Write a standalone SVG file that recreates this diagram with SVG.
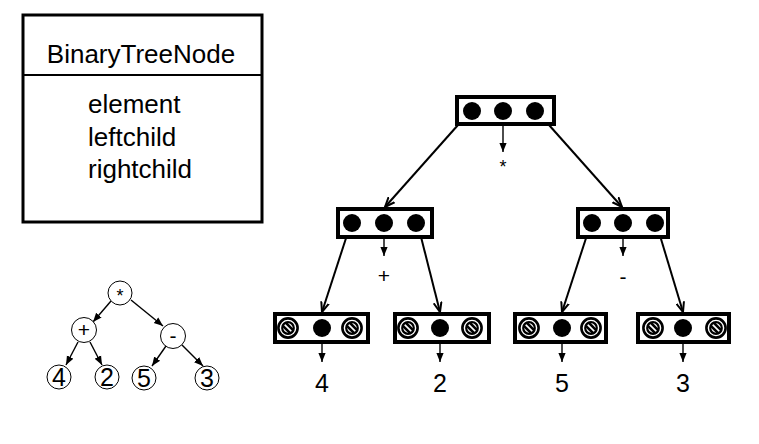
<svg xmlns="http://www.w3.org/2000/svg" width="759" height="444" viewBox="0 0 759 444">
<style>
.t{font-family:"Liberation Sans",Arial,sans-serif;fill:#000}
.box{fill:#fff;stroke:#000;stroke-width:4}
.dot{fill:#000}
.ln{stroke:#000;stroke-width:2;fill:none}
.ln1{stroke:#000;stroke-width:1.4;fill:none}
.sc{fill:#fff;stroke:#000;stroke-width:1}
</style>
<defs>
<marker id="ah2" viewBox="0 0 10 10" refX="10" refY="5" markerWidth="10" markerHeight="10" orient="auto" markerUnits="userSpaceOnUse">
<path d="M0,1 L10,5 L0,9" fill="none" stroke="#000" stroke-width="2"/>
</marker>
<marker id="ahs" viewBox="0 0 10 10" refX="10" refY="5" markerWidth="9" markerHeight="9" orient="auto" markerUnits="userSpaceOnUse">
<path d="M0,1 L10,5 L0,9 z" fill="#000"/>
</marker>
<clipPath id="hc"><circle cx="0" cy="0" r="6.5"/></clipPath>
<g id="hat">
<circle cx="0" cy="0" r="9.6" fill="#fff" stroke="#000" stroke-width="2.6"/>
<circle cx="0" cy="0" r="5.8" fill="#fff" stroke="#000" stroke-width="2.2"/>
<g clip-path="url(#hc)" stroke="#000" stroke-width="2.6">
<line x1="-10" y1="-13" x2="13" y2="10"/>
<line x1="-13" y1="-10" x2="10" y2="13"/>
</g>
</g>
</defs>

<g id="class-box">
<rect x="23" y="15" width="239" height="207" fill="#fff" stroke="#000" stroke-width="3"/>
<line x1="23" y1="75" x2="262" y2="75" stroke="#000" stroke-width="2"/>
<text class="t" x="141" y="63" font-size="26" text-anchor="middle">BinaryTreeNode</text>
<text class="t" x="88" y="113" font-size="26">element</text>
<text class="t" x="88" y="146" font-size="26">leftchild</text>
<text class="t" x="88" y="178" font-size="26">rightchild</text>
</g>

<g id="small-tree">
<g class="ln1" marker-end="url(#ahs)">
<line x1="111" y1="301" x2="93" y2="322"/>
<line x1="131" y1="300" x2="163" y2="326"/>
<line x1="78" y1="342" x2="66" y2="365"/>
<line x1="90" y1="342" x2="102" y2="365"/>
<line x1="166" y1="346" x2="152" y2="366"/>
<line x1="182" y1="345" x2="203" y2="366"/>
</g>
<g id="s-mul"><circle class="sc" cx="120" cy="293" r="12"/><text class="t" x="120" y="302" font-size="18" text-anchor="middle">*</text></g>
<g id="s-plus"><circle class="sc" cx="84" cy="330" r="12.5"/><text class="t" x="84" y="337" font-size="21" text-anchor="middle">+</text></g>
<g id="s-minus"><circle class="sc" cx="173" cy="336" r="12.5"/><text class="t" x="173" y="343" font-size="21" text-anchor="middle">-</text></g>
<g id="s-4"><circle class="sc" cx="59" cy="377" r="12"/><text class="t" x="59" y="386" font-size="25" text-anchor="middle">4</text></g>
<g id="s-2"><circle class="sc" cx="107" cy="377" r="12"/><text class="t" x="107" y="386" font-size="25" text-anchor="middle">2</text></g>
<g id="s-5"><circle class="sc" cx="144" cy="378" r="12"/><text class="t" x="144" y="387" font-size="25" text-anchor="middle">5</text></g>
<g id="s-3"><circle class="sc" cx="207" cy="378" r="12"/><text class="t" x="207" y="387" font-size="25" text-anchor="middle">3</text></g>
</g>

<g id="connectors">
<g class="ln" marker-end="url(#ah2)">
<line x1="466" y1="116" x2="385" y2="207"/>
<line x1="541" y1="116" x2="622" y2="207"/>
<line x1="349" y1="229" x2="322" y2="312"/>
<line x1="419" y1="229" x2="440" y2="312"/>
<line x1="589" y1="229" x2="562" y2="312"/>
<line x1="658" y1="229" x2="683" y2="312"/>
</g>
<g class="ln1" marker-end="url(#ahs)">
<line x1="503" y1="111" x2="503" y2="152"/>
<line x1="384" y1="223" x2="384" y2="256"/>
<line x1="623" y1="223" x2="623" y2="256"/>
<line x1="322" y1="328" x2="322" y2="362"/>
<line x1="440" y1="328" x2="440" y2="362"/>
<line x1="562" y1="328" x2="562" y2="362"/>
<line x1="683" y1="328" x2="683" y2="362"/>
</g>
</g>

<g id="root">
<rect class="box" x="457" y="97" width="97" height="27"/>
<circle class="dot" cx="472" cy="111" r="9"/>
<circle class="dot" cx="503" cy="111" r="9"/>
<circle class="dot" cx="535" cy="111" r="9"/>
<text class="t" x="503" y="173" font-size="18" text-anchor="middle">*</text>
</g>

<g id="plus">
<rect class="box" x="338" y="209" width="94" height="28"/>
<circle class="dot" cx="352" cy="223" r="9"/>
<circle class="dot" cx="384" cy="223" r="9"/>
<circle class="dot" cx="416" cy="223" r="9"/>
<text class="t" x="384" y="283" font-size="21" text-anchor="middle">+</text>
</g>

<g id="minus">
<rect class="box" x="578" y="209" width="90" height="28"/>
<circle class="dot" cx="592" cy="223" r="9"/>
<circle class="dot" cx="623" cy="223" r="9"/>
<circle class="dot" cx="655" cy="223" r="9"/>
<text class="t" x="623" y="284" font-size="21" text-anchor="middle">-</text>
</g>

<g id="leaf4">
<rect class="box" x="275" y="314" width="93" height="28"/>
<use href="#hat" x="288" y="328"/>
<circle class="dot" cx="322" cy="328" r="9"/>
<use href="#hat" x="352" y="328"/>
<text class="t" x="322" y="392" font-size="25" text-anchor="middle">4</text>
</g>

<g id="leaf2">
<rect class="box" x="395" y="314" width="94" height="28"/>
<use href="#hat" x="408" y="328"/>
<circle class="dot" cx="440" cy="328" r="9"/>
<use href="#hat" x="472" y="328"/>
<text class="t" x="440" y="392" font-size="25" text-anchor="middle">2</text>
</g>

<g id="leaf5">
<rect class="box" x="515" y="314" width="91" height="28"/>
<use href="#hat" x="529" y="328"/>
<circle class="dot" cx="562" cy="328" r="9"/>
<use href="#hat" x="591" y="328"/>
<text class="t" x="562" y="392" font-size="25" text-anchor="middle">5</text>
</g>

<g id="leaf3">
<rect class="box" x="638" y="314" width="91" height="28"/>
<use href="#hat" x="653" y="328"/>
<circle class="dot" cx="683" cy="328" r="9"/>
<use href="#hat" x="716" y="328"/>
<text class="t" x="683" y="392" font-size="25" text-anchor="middle">3</text>
</g>
</svg>
